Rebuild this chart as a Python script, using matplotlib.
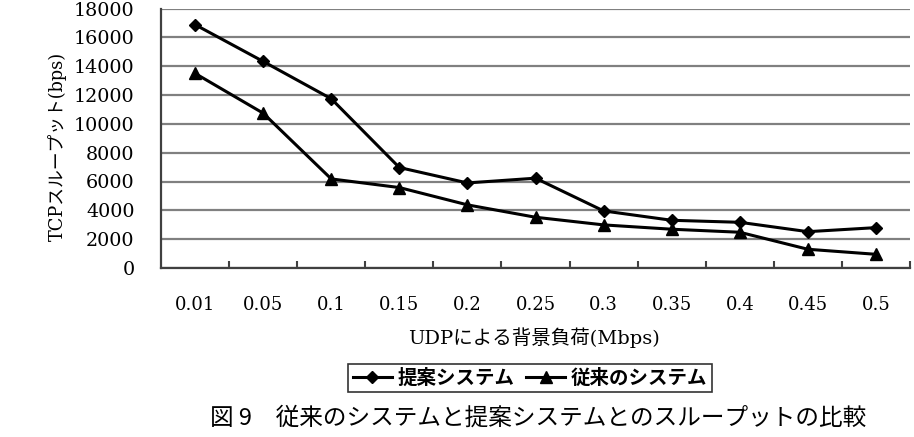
import matplotlib.pyplot as plt

# データ
loads = ['0.01', '0.05', '0.1', '0.15', '0.2', '0.25', '0.3', '0.35', '0.4', '0.45', '0.5']
proposed = [16880, 14330, 11740, 6970, 5900, 6230, 3960, 3310, 3170, 2520, 2800]
conventional = [13500, 10740, 6180, 5580, 4380, 3520, 2990, 2690, 2480, 1300, 950]

jp = ['DejaVu Serif', 'Noto Sans CJK JP']
plt.rcParams['font.family'] = jp

fig = plt.figure(figsize=(9.14, 4.37), dpi=100)
ax = fig.add_axes([161 / 914, 1 - 268 / 437, 749 / 914, 259.5 / 437])

x = range(len(loads))
ax.plot(x, proposed, color='black', lw=2.2, marker='D', ms=6.5, label='提案システム')
ax.plot(x, conventional, color='black', lw=2.2, marker='^', ms=8.5, label='従来のシステム')

ax.set_xlim(-0.5, len(loads) - 0.5)
ax.set_ylim(0, 18000)
ax.set_yticks(range(0, 18001, 2000))
ax.set_xticks(list(x))
ax.set_xticklabels(loads)
ax.set_xticks([i + 0.5 for i in x], minor=True)

ax.grid(axis='y', color='#808080', lw=1.6)
ax.set_axisbelow(True)
for s in ['top', 'right']:
    ax.spines[s].set_visible(False)
for s in ['left', 'bottom']:
    ax.spines[s].set_color('#404040')
    ax.spines[s].set_linewidth(1.6)

ax.tick_params(axis='y', length=0, pad=19, labelsize=13.8)
ax.tick_params(axis='x', which='major', length=0, pad=20, labelsize=13)
ax.tick_params(axis='x', which='minor', direction='in', length=5, width=1.5, color='#404040')
for t in ax.get_xticklabels() + ax.get_yticklabels():
    t.set_fontfamily('DejaVu Serif')

# 軸ラベル
fig.text(57 / 914, 1 - 146 / 437, 'TCPスループット(bps)', rotation=90,
         ha='center', va='center', fontsize=12.8, family=jp)
fig.text(534 / 914, 1 - 338 / 437, 'UDPによる背景負荷(Mbps)',
         ha='center', va='center', fontsize=14, family=jp)

# 凡例
leg = fig.legend(loc='center', bbox_to_anchor=(530 / 914, 1 - 378 / 437), ncol=2,
                 frameon=True, fancybox=False, edgecolor='black', handlelength=2.0,
                 handletextpad=0.3, columnspacing=0.6, borderpad=0.25,
                 prop={'family': 'Noto Sans CJK JP', 'size': 14, 'weight': 'bold'})
leg.get_frame().set_linewidth(1.2)

# キャプション
fig.text(538 / 914, 1 - 418 / 437, '図 9　従来のシステムと提案システムとのスループットの比較',
         ha='center', va='center', fontsize=17, family=['Noto Sans CJK JP', 'DejaVu Sans'])

fig.savefig('out.png', dpi=100)
